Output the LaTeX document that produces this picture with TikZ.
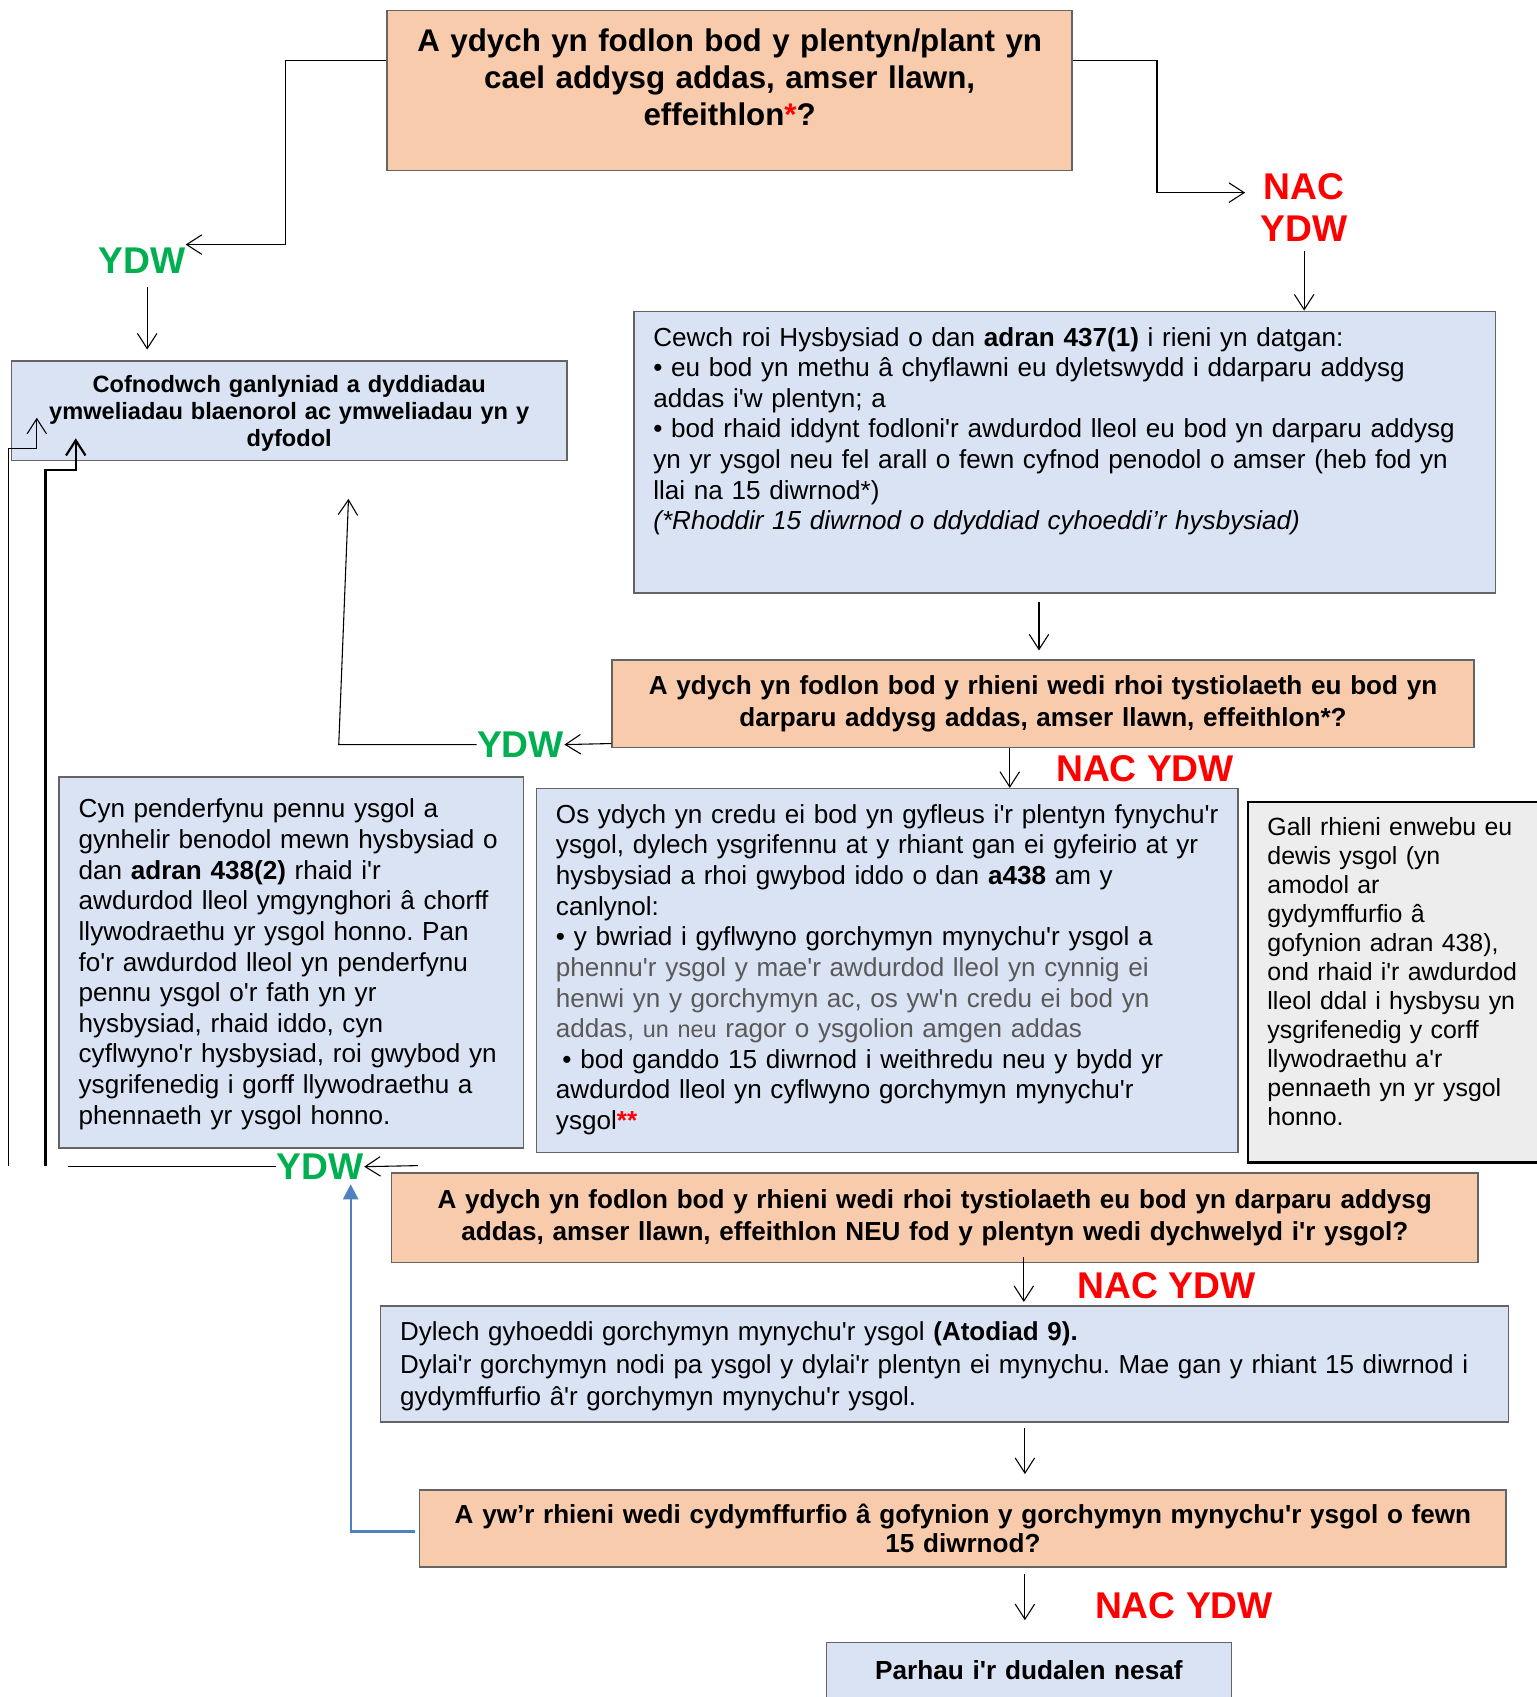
\documentclass[tikz,border=0pt]{standalone}
\usepackage{fontspec}
\setmainfont{Liberation Sans}[Ligatures=TeXOff]
\usetikzlibrary{arrows.meta,positioning}
\definecolor{mypeach}{RGB}{248,203,173}
\definecolor{myblue}{RGB}{218,227,243}
\definecolor{mygrey}{RGB}{237,237,237}
\definecolor{myedge}{RGB}{100,100,100}
\definecolor{mygreen}{RGB}{0,176,80}
\definecolor{myred}{RGB}{255,0,0}
\definecolor{mylink}{RGB}{79,129,189}
\definecolor{mytext}{RGB}{89,89,89}
\newcommand{\padleft}{\leftskip=9pt\relax}
\frenchspacing

\begin{document}
\begin{tikzpicture}[x=0.5pt,y=-0.5pt,
  box/.style={draw=myedge,line width=0.7pt,anchor=north west,inner sep=0pt},
  qbox/.style={box,fill=mypeach,align=center,font=\fontsize{12.05}{14.5}\selectfont\bfseries},
  ibox/.style={box,fill=myblue,align=left,font=\fontsize{12.05}{14.15}\selectfont},
  yes/.style={inner sep=0pt,text=mygreen,font=\fontsize{17.2}{19.5}\selectfont\bfseries},
  no/.style={inner sep=0pt,align=center,text=myred,font=\fontsize{17.2}{19.5}\selectfont\bfseries},
  arr/.style={line width=0.5pt,-{Straight Barb[length=7pt,width=9pt]}},
  bluearr/.style={draw=mylink,line width=1pt,-{Triangle[length=7pt,width=7pt]}}]

  \fill[white] (0,0) rectangle (1420,1568);
  \useasboundingbox (0,0) rectangle (1420,1568);

  % question boxes
  \node[qbox,minimum width=316.5pt,text width=316.5pt,text height=19pt,text depth=55pt,
    font=\fontsize{14.47}{17}\selectfont\bfseries] (q1) at (357,9)
    {A ydych yn fodlon bod y plentyn/plant yn\\cael addysg addas, amser llawn,\\effeithlon\textcolor{myred}{*}?};
  \node[qbox,minimum width=398pt,text width=398pt,minimum height=40.5pt] (q2) at (565,609)
    {A ydych yn fodlon bod y rhieni wedi rhoi tystiolaeth eu bod yn\\darparu addysg addas, amser llawn, effeithlon*?};
  \node[qbox,minimum width=502pt,text width=502pt,minimum height=41.5pt] (q3) at (361,1083)
    {A ydych yn fodlon bod y rhieni wedi rhoi tystiolaeth eu bod yn darparu addysg\\addas, amser llawn, effeithlon NEU fod y plentyn wedi dychwelyd i'r ysgol?};
  \node[qbox,minimum width=502pt,text width=502pt,minimum height=35.5pt,
    font=\fontsize{12.05}{13.5}\selectfont\bfseries] (q4) at (387,1376)
    {A yw’r rhieni wedi cydymffurfio â gofynion y gorchymyn mynychu'r ysgol o fewn\\15 diwrnod?};

  % information boxes
  \node[ibox,align=center,minimum width=256.5pt,text width=256.5pt,minimum height=46pt,
    text height=10pt,text depth=27pt,
    font=\fontsize{10.9}{12.5}\selectfont\bfseries] (rec) at (10,333)
    {Cofnodwch ganlyniad a dyddiadau\\ymweliadau blaenorol ac ymweliadau yn y\\dyfodol};
  \node[ibox,text width=398pt,text height=16pt,text depth=114pt] (notice) at (585,287)
    {\padleft Cewch roi Hysbysiad o dan \textbf{adran 437(1)} i rieni yn datgan:\\
     • eu bod yn methu â chyflawni eu dyletswydd i ddarparu addysg\\
     addas i'w plentyn; a\\
     • bod rhaid iddynt fodloni'r awdurdod lleol eu bod yn darparu addysg\\
     yn yr ysgol neu fel arall o fewn cyfnod penodol o amser (heb fod yn\\
     llai na 15 diwrnod*)\\
     \textit{(*Rhoddir 15 diwrnod o ddyddiad cyhoeddi’r hysbysiad)}\par};
  \node[ibox,text width=214.5pt,text height=19pt,text depth=152.5pt] (consult) at (54,717)
    {\padleft Cyn penderfynu pennu ysgol a\\
     gynhelir benodol mewn hysbysiad o\\
     dan \textbf{adran 438(2)} rhaid i'r\\
     awdurdod lleol ymgynghori â chorff\\
     llywodraethu yr ysgol honno. Pan\\
     fo'r awdurdod lleol yn penderfynu\\
     pennu ysgol o'r fath yn yr\\
     hysbysiad, rhaid iddo, cyn\\
     cyflwyno'r hysbysiad, roi gwybod yn\\
     ysgrifenedig i gorff llywodraethu a\\
     phennaeth yr ysgol honno.\par};
  \node[ibox,text width=324pt,text height=16pt,text depth=152pt] (mid) at (495,728)
    {\padleft Os ydych yn credu ei bod yn gyfleus i'r plentyn fynychu'r\\
     ysgol, dylech ysgrifennu at y rhiant gan ei gyfeirio at yr\\
     hysbysiad a rhoi gwybod iddo o dan \textbf{a438} am y\\
     canlynol:\\
     • y bwriad i gyflwyno gorchymyn mynychu'r ysgol a\\
     \textcolor{mytext}{phennu'r ysgol y mae'r awdurdod lleol yn cynnig ei}\\
     \textcolor{mytext}{henwi yn y gorchymyn ac, os yw'n credu ei bod yn}\\
     \textcolor{mytext}{addas, {\fontsize{10.8}{14.15}\selectfont un neu} ragor o ysgolion amgen addas}\\
     \hspace{3pt}• bod ganddo 15 diwrnod i weithredu neu y bydd yr\\
     awdurdod lleol yn cyflwyno gorchymyn mynychu'r\\
     ysgol\textcolor{myred}{\textbf{**}}\par};
  \node[ibox,draw=black,line width=1.1pt,fill=mygrey,text width=150pt,
    text height=15.5pt,text depth=151pt,font=\fontsize{11.5}{13.4}\selectfont] (choice) at (1152,740)
    {\padleft Gall rhieni enwebu eu\\
     dewis ysgol (yn\\
     amodol ar\\
     gydymffurfio â\\
     gofynion adran 438),\\
     ond rhaid i'r awdurdod\\
     lleol ddal i hysbysu yn\\
     ysgrifenedig y corff\\
     llywodraethu a'r\\
     pennaeth yn yr ysgol\\
     honno.\par};
  \node[ibox,text width=521pt,text height=16pt,text depth=37.5pt,
    font=\fontsize{12}{15}\selectfont] (publish) at (351,1206)
    {\padleft Dylech gyhoeddi gorchymyn mynychu'r ysgol \textbf{(Atodiad 9).}\\
     Dylai'r gorchymyn nodi pa ysgol y dylai'r plentyn ei mynychu. Mae gan y rhiant 15 diwrnod i\\
     gydymffurfio â'r gorchymyn mynychu'r ysgol.\par};
  \node[ibox,align=center,text width=187pt,text height=17pt,text depth=30pt,
    font=\fontsize{12.1}{14.5}\selectfont\bfseries] (final) at (763,1517)
    {Parhau i'r dudalen nesaf};

  % answers
  \node[yes] (ydw1) at (131,241) {YDW};
  \node[no] (nac1) at (1205,192) {NAC\\YDW};
  \node[yes] (ydw2) at (481,688) {YDW};
  \node[no] (nac2) at (1058,710) {NAC YDW};
  \node[yes] (ydw3) at (296,1078) {YDW};
  \node[no] (nac3) at (1078,1188) {NAC YDW};
  \node[no] (nac4) at (1094,1484) {NAC YDW};

  % connectors
  \draw[arr] (q1.west |- 0,56) -| (264,226) -- (ydw1.east |- 0,226);
  \draw[arr,shorten <=6pt,shorten >=5pt] (ydw1.south -| 136,0) -- (rec.north -| 136,0);
  \draw[arr,shorten >=7pt] (q1.east |- 0,56) -| (1069,178) -- (nac1.west |- 0,178);
  \draw[arr,shorten <=4pt] (nac1.south) -- (nac1.south |- notice.north);
  \draw[arr,shorten <=4pt,shorten >=4pt] (notice.south -| 960,0) -- (q2.north -| 960,0);
  \draw[arr] (q2.west |- 0,687) -- (ydw2.east);
  \draw[arr] (ydw2.west) -- (313,688) -- (322,461);
  \draw[arr] (q2.south -| 933,0) -- (mid.north -| 933,0);
  \draw[arr] ([xshift=12.5pt,yshift=3pt]q3.north west) -- (ydw3.east);
  \draw[line width=0.7pt] (ydw3.west) -- (63,1078);
  \draw[arr,shorten >=1.5pt] ([yshift=3pt]q3.south -| 946,0) -- (publish.north -| 946,0);
  \draw[arr,shorten <=2.5pt,shorten >=7pt] (publish.south -| 947,0) -- (q4.north -| 947,0);
  \draw[arr,shorten <=3pt,shorten >=10pt] (q4.south -| 947,0) -- (final.north -| 947,0);
  \draw[bluearr,shorten >=2pt] ([xshift=-2pt]q4.west |- 0,1415) -| (ydw3.south -| 324,0);

  % loops back to the record box
  \draw[arr] (8,1077) -- (8,414) -- (34,414) -- (34,386);
  \draw[arr,line width=1pt] (42,1077) -- (42,434) -- (70,434) -- (70,405);

\end{tikzpicture}
\end{document}
